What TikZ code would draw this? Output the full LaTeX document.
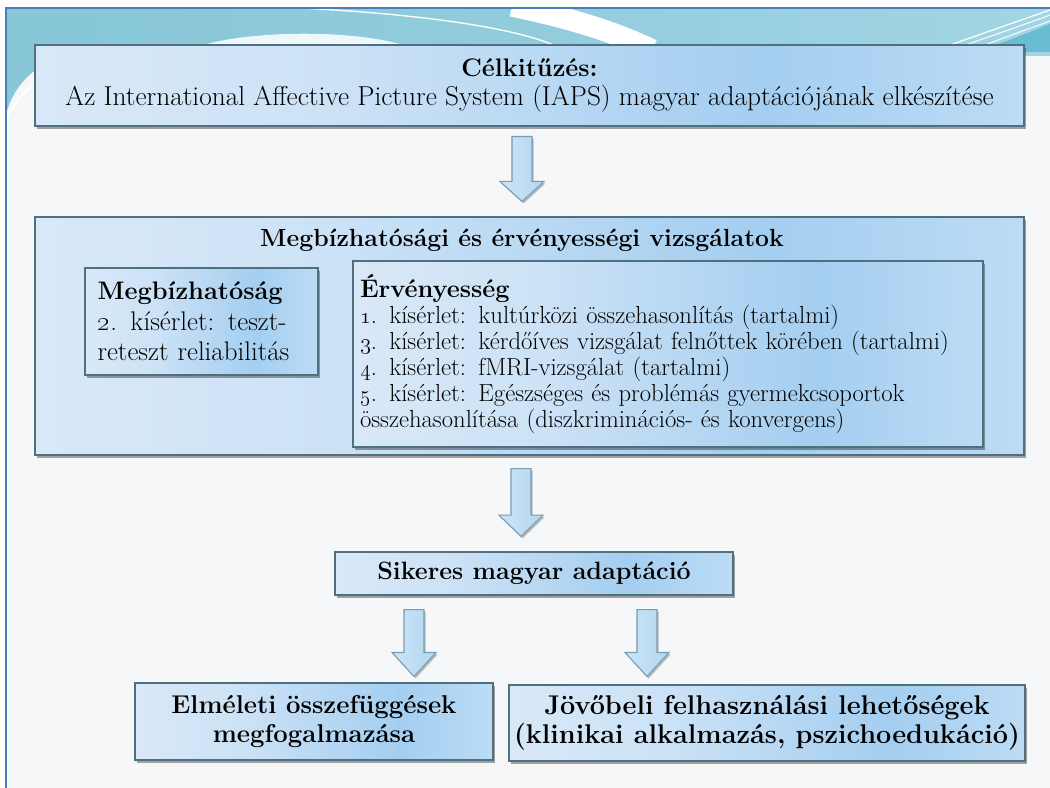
\documentclass[tikz,border=0pt]{standalone}
\usetikzlibrary{shadows,calc}
\definecolor{frameblue}{HTML}{4A7EBB}
\definecolor{bgc}{HTML}{F6F7F8}
\definecolor{tealA}{HTML}{7BC1D3}
\definecolor{tealB}{HTML}{92CCDC}
\definecolor{tealC}{HTML}{B3DFEC}
\definecolor{tealD}{HTML}{5DB6CE}
\definecolor{bxA}{HTML}{EDF2FB}
\definecolor{bxB}{HTML}{CCE2F6}
\definecolor{bxC}{HTML}{A4CEF0}
\definecolor{bxD}{HTML}{CDE5F8}
\definecolor{bxE}{HTML}{EEF7FD}
\definecolor{edgec}{HTML}{50707F}
\definecolor{arA}{HTML}{D8ECFA}
\definecolor{arB}{HTML}{A6CFEE}
\definecolor{arEdge}{HTML}{7B9BB0}
\pgfdeclarehorizontalshading{boxshade}{100bp}{color(0bp)=(bxA); color(40bp)=(bxB); color(62bp)=(bxC); color(84bp)=(bxD); color(100bp)=(bxE)}
\pgfdeclarehorizontalshading{tealshade}{100bp}{color(0bp)=(tealA); color(50bp)=(tealB); color(100bp)=(tealC)}
\pgfdeclarehorizontalshading{arrowshade}{100bp}{color(0bp)=(arA); color(100bp)=(arB)}
\tikzset{
  boxst/.style={draw=edgec, line width=0.8pt, shading=boxshade,
    drop shadow={shadow xshift=1.5pt, shadow yshift=-2pt, fill=black, opacity=0.35},
    inner sep=0pt, text=black},
  arrowst/.style={draw=arEdge, line width=0.8pt, shading=arrowshade, line join=miter,
    drop shadow={shadow xshift=1.2pt, shadow yshift=-1.5pt, fill=black, opacity=0.25}},
  regtext/.style={font=\fontsize{20.5}{21.75}\selectfont},
  listtext/.style={font=\fontsize{18.5}{19.5}\selectfont},
  boldtext/.style={font=\bfseries\fontsize{18.6}{21.75}\selectfont},
}
\newcommand{\blockarrow}[3]{%
  \path[arrowst] let \p1=(#1), \p2=(#2) in
    (\x1-7.5pt,\y1) -- (\x1+7.5pt,\y1) -- (\x1+7.5pt,\y2+#3) -- (\x1+16.5pt,\y2+#3)
    -- (\x1,\y2) -- (\x1-16.5pt,\y2+#3) -- (\x1-7.5pt,\y2+#3) -- cycle;}
\begin{document}
\begin{tikzpicture}[x=0.75pt,y=-0.75pt]
\useasboundingbox (0,0) rectangle (1050,788);
% background
\fill[white] (0,0) rectangle (1050,788);
\fill[bgc] (6,8) rectangle (1050,788);
\shade[shading=tealshade] (6,8) -- (1050,8) -- (1050,56) -- (70,56)
  .. controls (35,62) and (14,85) .. (6,114) -- cycle;
\draw[white, line width=1.4pt, opacity=0.9] (6,120) .. controls (16,98) and (32,80) .. (70,62);
% white swoosh
\draw[white, line width=16pt, line cap=butt] (512,6) .. controls (570,18) and (615,32) .. (652,50);
\draw[white, line width=1pt] (300,8) .. controls (420,14) and (520,28) .. (560,48);
% pale hump behind the top box
\fill[white, opacity=0.85] (195,48) .. controls (240,30) and (360,28) .. (412,48) -- cycle;
\fill[tealD, opacity=0.8] (990,47) .. controls (1015,38) and (1035,30) .. (1050,24) -- (1050,52) -- (1000,52) -- cycle;
\draw[white, line width=0.9pt] (1050,10) .. controls (1010,24) and (975,36) .. (945,47);
\draw[white, line width=0.7pt] (1050,15) .. controls (1015,28) and (985,38) .. (960,47);
\draw[white, line width=0.7pt] (1050,21) .. controls (1020,32) and (995,41) .. (975,49);
\fill[white] (0,0) rectangle (1050,7);
\draw[frameblue, line width=1.6pt] (6,788) -- (6,8) -- (1050,8);

% boxes
\node[boxst, regtext, align=center, minimum width=741.75pt, minimum height=60.75pt]
  (top) at (529.5,85.5) {{\bfseries\fontsize{19}{21.75}\selectfont C\'elkit\H{u}z\'es:}\\Az International Affective Picture System (IAPS) magyar adapt\'aci\'oj\'anak elk\'esz\'it\'ese};
\node[boxst, minimum width=741.75pt, minimum height=178.5pt] (big) at (529.5,336) {};
\node[boldtext, inner sep=0pt] (title) at (522,240) {Megb\'izhat\'os\'agi \'es \'erv\'enyess\'egi vizsg\'alatok};
\node[boxst, align=left, inner xsep=9pt, text width=156pt,
  minimum width=174.75pt, minimum height=80.25pt, font=\fontsize{20.2}{23}\selectfont]
  (megb) at (201.5,321.5) {{\bfseries\fontsize{19}{23}\selectfont Megb\'izhat\'os\'ag}\\\oldstylenums{2}. k\'is\'erlet: teszt-\\reteszt reliabilit\'as};
\node[boxst, listtext, align=left, inner xsep=5.25pt, text width=462pt,
  minimum width=472.5pt, minimum height=139.5pt]
  (erv) at (668,354) {{\bfseries\fontsize{19}{21}\selectfont \'Erv\'enyess\'eg}\\
  \oldstylenums{1}. k\'is\'erlet: kult\'urk\"ozi \"osszehasonl\'it\'as (tartalmi)\\
  \oldstylenums{3}. k\'is\'erlet: k\'erd\H{o}\'ives vizsg\'alat feln\H{o}ttek k\"or\'eben (tartalmi)\\
  \oldstylenums{4}. k\'is\'erlet: fMRI-vizsg\'alat (tartalmi)\\
  \oldstylenums{5}. k\'is\'erlet: Eg\'eszs\'eges \'es probl\'em\'as gyermekcsoportok\\
  \"osszehasonl\'it\'asa (diszkrimin\'aci\'os- \'es konvergens)};
\node[boxst, align=center, minimum width=298.5pt, minimum height=32.25pt,
  font=\bfseries\fontsize{18.8}{21.75}\selectfont]
  (sik) at (534,573.5) {Sikeres magyar adapt\'aci\'o};
\node[boxst, align=center, minimum width=268.5pt, minimum height=57.75pt,
  font=\bfseries\fontsize{19.3}{22}\selectfont]
  (elm) at (314,721.5) {Elm\'eleti \"osszef\"ugg\'esek\\megfogalmaz\'asa};
\node[boxst, align=center, minimum width=387pt, minimum height=57pt,
  font=\bfseries\fontsize{20.3}{22}\selectfont]
  (jov) at (767,723) {J\"ov\H{o}beli felhaszn\'al\'asi lehet\H{o}s\'egek\\(klinikai alkalmaz\'as, pszichoeduk\'aci\'o)};

% arrows
\coordinate (a1s) at ($(top.south)+(-7.5,10)$);
\coordinate (a1e) at ($(big.north)+(-7.5,-15)$);
\coordinate (a2s) at ($(big.south)+(-8.5,13)$);
\coordinate (a2e) at ($(sik.north)+(-13,-15)$);
\coordinate (a3s) at ($(sik.south)+(-120,14)$);
\coordinate (a3e) at ($(elm.north)+(100,-6)$);
\coordinate (a4s) at ($(sik.south)+(113,14)$);
\coordinate (a4e) at ($(jov.north)+(-120,-8)$);
\blockarrow{a1s}{a1e}{15pt}
\blockarrow{a2s}{a2e}{16pt}
\blockarrow{a3s}{a3e}{18pt}
\blockarrow{a4s}{a4e}{18pt}
\end{tikzpicture}
\end{document}
